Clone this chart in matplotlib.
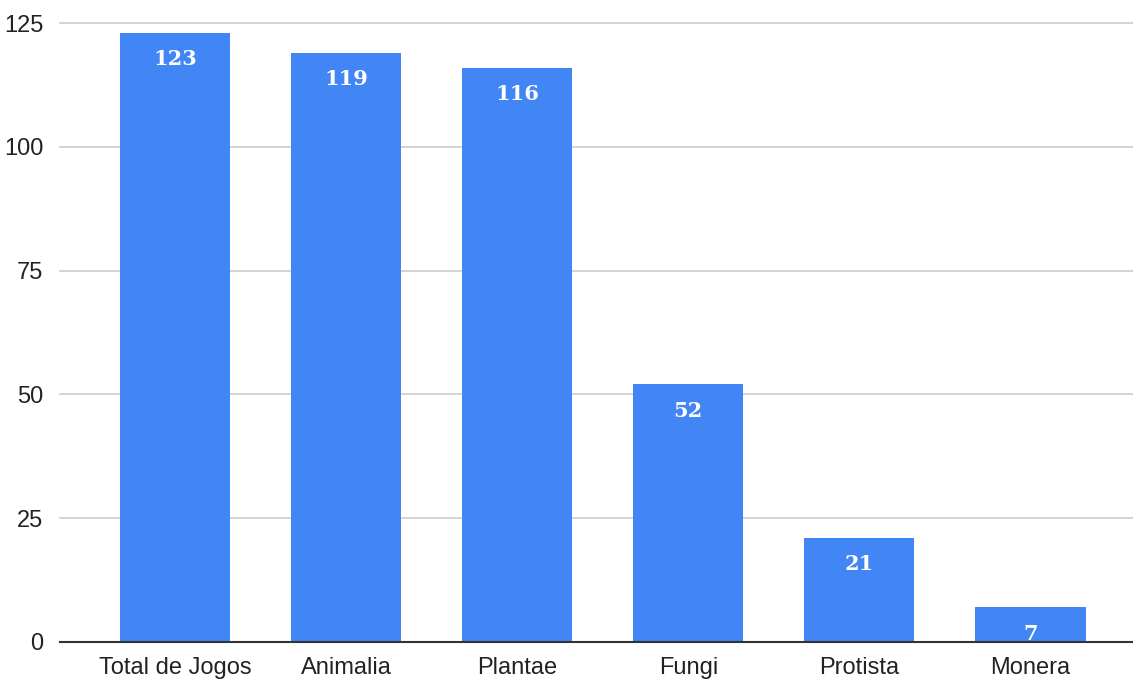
import matplotlib.pyplot as plt

categories = ['Total de Jogos', 'Animalia', 'Plantae', 'Fungi', 'Protista', 'Monera']
values = [123, 119, 116, 52, 21, 7]
yticks = [0, 25, 50, 75, 100, 125]

plt.rcParams['font.family'] = ['Liberation Sans', 'DejaVu Sans']

fig = plt.figure(figsize=(11.33, 6.79), dpi=100)
ax = fig.add_axes([60 / 1133, 37 / 679, 1 - 60 / 1133, (642 - 23) / 679])

x = range(len(categories))
bars = ax.bar(x, values, width=0.645, color='#4285F4', zorder=3)

for b, v in zip(bars, values):
    ax.annotate(str(v), (b.get_x() + b.get_width() / 2, v),
                xytext=(0, -19), textcoords='offset points',
                ha='center', va='center', color='white',
                fontsize=15, fontweight='bold', family='DejaVu Serif', zorder=4)

ax.set_xlim(-0.673, 5.60)
ax.set_ylim(0, 125)
ax.set_yticks(yticks)
ax.set_xticks(list(x))
ax.set_xticklabels(categories)
ax.tick_params(axis='both', length=0, labelsize=17, colors='#222222')
ax.tick_params(axis='x', pad=11)
ax.tick_params(axis='y', pad=12)

ax.grid(axis='y', color='#cccccc', linewidth=1.2, zorder=0)
for lab in ax.get_ygridlines():
    lab.set_clip_on(False)
for s in ['top', 'right', 'left']:
    ax.spines[s].set_visible(False)
ax.spines['bottom'].set_color('#333333')
ax.spines['bottom'].set_linewidth(1.5)
ax.spines['bottom'].set_zorder(5)

fig.savefig('out.png', dpi=100, facecolor='white')
